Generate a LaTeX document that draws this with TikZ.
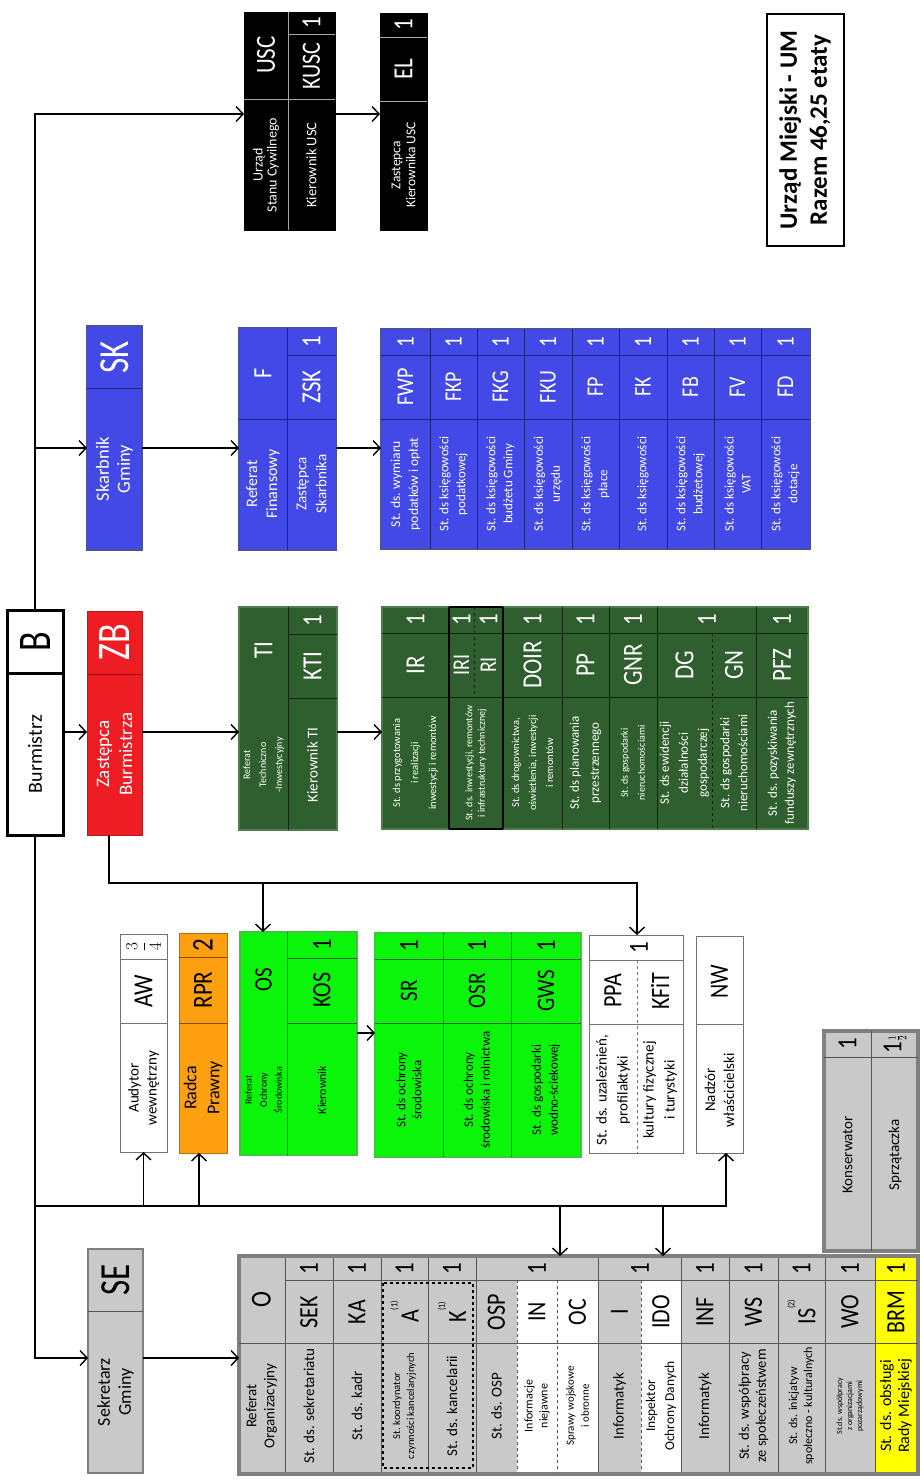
\documentclass[tikz,border=0pt]{standalone}
\usepackage{fontspec}
\setmainfont{Carlito}
\usetikzlibrary{arrows.meta,fit}
\definecolor{cblue}{HTML}{4349E6}
\definecolor{cblueD}{HTML}{1E2580}
\definecolor{cred}{HTML}{EE1D23}
\definecolor{cdg}{HTML}{2F5F2E}
\definecolor{cdgB}{HTML}{4E7D4C}
\definecolor{cdgD}{HTML}{132813}
\definecolor{cbg}{HTML}{0AF50A}
\definecolor{cbgB}{HTML}{3CC83C}
\definecolor{cbgD}{HTML}{1B6B1B}
\definecolor{corange}{HTML}{FFA010}
\definecolor{cgrey}{HTML}{C9C9C9}
\definecolor{cgreyB}{HTML}{7F7F7F}
\definecolor{cgreyD}{HTML}{555555}
\definecolor{cyel}{HTML}{FFFF00}
\newcommand\fs[2]{\fontsize{#1}{#2}\selectfont}
\newcommand\mkbox[6]{\node[inner sep=0pt,outer sep=0pt,fit={(#2,#3) (#4,#5)},#6] (#1) {};}
\newcount\tcount
\newcommand\tx[4]{\global\advance\tcount by 1\relax\node[rot,#4] (t\the\tcount) at (#1,#2) {#3};}
\tikzset{
  rot/.style={rotate=90,align=center,inner sep=0pt},
  cd/.style={yscale=1.2},
  bigcd/.style={yscale=1.3},
  wt/.style={text=white},
  conn/.style={line width=1.4pt,draw=black},
  arr/.style={conn,-{Straight Barb[length=7pt,width=15pt]}},
  bluebox/.style={fill=cblue,draw=cblueD!80,line width=1.5pt},
  dgbox/.style={fill=cdg,draw=cdgB,line width=1.2pt},
  bgbox/.style={fill=cbg,draw=cbgB,line width=1.5pt},
  greybox/.style={fill=cgrey,draw=cgreyB,line width=1.5pt},
  wbox/.style={fill=white,draw=black!55,line width=0.9pt},
  bdiv/.style={draw=cblueD,line width=0.8pt},
  gndiv/.style={draw=cdgD,line width=0.8pt},
  bgdiv/.style={draw=cbgD,line width=0.7pt},
  gdiv/.style={draw=cgreyD,line width=0.8pt},
  kdiv/.style={draw=black!35,line width=1pt},
  wdiv/.style={draw=black!55,line width=0.8pt},
  odiv/.style={draw=corange!50!black,line width=0.7pt},
}
\begin{document}
\begin{tikzpicture}[x=1pt,y=-1pt]
\useasboundingbox (0,0) rectangle (921,1484);
\fill[white] (0,0) rectangle (921,1484);

% ---------- title
\mkbox{title}{767}{14}{844}{246}{draw=black,line width=2.2pt}
\tx{805}{130}{Urząd Miejski - UM\\Razem 46,25 etaty}{font=\fs{25}{30}\bfseries}

% ---------- Burmistrz
\mkbox{bur}{7}{610}{63}{835}{draw=black,line width=3pt,fill=white}
\draw[line width=3pt] (7,673) -- (63,673);
\tx{35}{642}{B}{bigcd,font=\fs{36}{36}}
\tx{35}{754}{Burmistrz}{font=\fs{20}{24}}

% ---------- ZB
\mkbox{zb}{87}{611}{142}{835}{fill=cred,draw=cred!80!black,line width=0.8pt}
\draw[line width=0.8pt,draw=cred!60!black] (87,674) -- (142,674);
\tx{114.5}{642}{ZB}{wt,bigcd,font=\fs{36}{36}}
\tx{114.5}{754}{Zastępca\\Burmistrza}{wt,font=\fs{19}{23}}

% ---------- SK
\mkbox{sk}{87}{326}{142}{550}{bluebox}
\draw[bdiv] (87,388) -- (142,388);
\tx{114.5}{357}{SK}{wt,bigcd,font=\fs{33}{33}}
\tx{114.5}{469}{Skarbnik\\Gminy}{wt,font=\fs{18.5}{21}}

% ---------- SE
\mkbox{se}{88}{1249}{143}{1473}{greybox}
\draw[gdiv] (88,1311) -- (143,1311);
\tx{115.5}{1280}{SE}{bigcd,font=\fs{33}{33}}
\tx{115.5}{1392}{Sekretarz\\Gminy}{font=\fs{18}{21}}

% ---------- USC
\mkbox{usc}{244}{12}{335}{230}{fill=black,draw=black}
\draw[kdiv] (288,12) -- (288,230) (244,99) -- (335,99) (288,34) -- (335,34);
\tx{266}{55}{USC}{wt,cd,font=\fs{23}{23}}
\tx{266}{165}{Urząd\\Stanu Cywilnego}{wt,font=\fs{14}{14}}
\tx{311.5}{23}{1}{wt,cd,font=\fs{23}{23}}
\tx{311.5}{66}{KUSC}{wt,cd,font=\fs{22}{22}}
\tx{311.5}{165}{Kierownik USC}{wt,font=\fs{14.5}{16}}

% ---------- EL
\mkbox{el}{380}{13}{427}{230}{fill=black,draw=black}
\draw[kdiv] (380,37) -- (427,37) (380,101) -- (427,101);
\tx{403.5}{25}{1}{wt,cd,font=\fs{23}{23}}
\tx{403.5}{69}{EL}{wt,cd,font=\fs{23}{23}}
\tx{403.5}{165}{Zastępca\\Kierownika USC}{wt,font=\fs{13.5}{15}}

% ---------- F
\mkbox{fin}{239}{328}{336}{550}{bluebox}
\draw[bdiv] (287,328) -- (287,550) (239,419) -- (336,419) (287,355) -- (336,355);
\tx{263}{373}{F}{wt,cd,font=\fs{22}{22}}
\tx{311.5}{341.5}{1}{wt,cd,font=\fs{23}{23}}
\tx{311.5}{387}{ZSK}{wt,cd,font=\fs{23}{23}}
\tx{263}{484}{Referat\\Finansowy}{wt,font=\fs{16}{20}}
\tx{311.5}{484}{Zastępca\\Skarbnika}{wt,font=\fs{15}{20}}

% ---------- F list
\mkbox{fwp}{381}{329}{810}{549}{bluebox}
\draw[bdiv] (381,355) -- (810,355) (381,419) -- (810,419);
\foreach \x in {430,477,524,572,619,667,714,761} {\draw[bdiv] (\x,329) -- (\x,549);}
\foreach \cx/\cd in {405.5/FWP,453.5/FKP,500.5/FKG,548/FKU,595.5/FP,643/FK,690.5/FB,737.5/FV,785.5/FD}{%
  \tx{\cx}{342}{1}{wt,cd,font=\fs{21}{21}}%
  \tx{\cx}{387}{\cd}{wt,cd,font=\fs{20}{20}}%
}
\tx{405.5}{484}{St. ds. wymiaru\\podatków i opłat}{wt,font=\fs{13.5}{18}}
\tx{453.5}{484}{St. ds księgowości\\podatkowej}{wt,font=\fs{13}{17}}
\tx{500.5}{484}{St. ds księgowości\\budżetu Gminy}{wt,font=\fs{13}{17}}
\tx{548}{484}{St. ds księgowości\\urzędu}{wt,font=\fs{13}{17}}
\tx{595.5}{484}{St. ds księgowości\\płace}{wt,font=\fs{13}{17}}
\tx{643}{484}{St. ds księgowości}{wt,font=\fs{13}{17}}
\tx{690.5}{484}{St. ds księgowości\\budżetowej}{wt,font=\fs{13}{17}}
\tx{737.5}{484}{St. ds księgowości\\VAT}{wt,font=\fs{13}{17}}
\tx{785.5}{484}{St. ds księgowości\\dotacje}{wt,font=\fs{13}{17}}

% ---------- TI
\mkbox{ti}{239}{607}{337}{830}{dgbox}
\draw[gndiv] (288,607) -- (288,830) (288,634) -- (337,634) (288,698) -- (337,698);
\tx{263.5}{650}{TI}{wt,cd,font=\fs{23}{23}}
\tx{263.5}{765}{Referat\\Techniczno\\-Inwestycyjny}{wt,font=\fs{10}{16}}
\tx{312.5}{621}{1}{wt,cd,font=\fs{23}{23}}
\tx{312.5}{666}{KTI}{wt,cd,font=\fs{23}{23}}
\tx{312.5}{765}{Kierownik TI}{wt,font=\fs{15}{17}}

% ---------- TI list
\mkbox{ir}{382}{607}{808}{829}{dgbox}
\draw[gndiv] (382,633) -- (808,633) (382,697) -- (808,697);
\foreach \x in {562,609,657,756} {\draw[gndiv] (\x,607) -- (\x,829);}
\draw[draw=black,line width=1.2pt] (449,607) -- (449,829) (503,607) -- (503,829) (449,829) -- (503,829) (449,607) -- (503,607);
\draw[gndiv,dashed] (474,607) -- (474,697) (712,633) -- (712,829);
\foreach \cx in {415.5,461.5,488.5,532.5,585.5,633,707,782} {\tx{\cx}{620}{1}{wt,cd,font=\fs{23}{23}}}
\foreach \cx/\cd in {415.5/IR,532.5/DOIR,585.5/PP,633/GNR,684.5/DG,734/GN,782/PFZ} {\tx{\cx}{665}{\cd}{wt,cd,font=\fs{23}{23}}}
\tx{461.5}{665}{IRI}{wt,cd,font=\fs{20}{20}}
\tx{488.5}{665}{RI}{wt,cd,font=\fs{20}{20}}
\tx{415.5}{763}{St. ds przygotowania\\i realizacji\\inwestycji i remontów}{wt,font=\fs{10.5}{18}}
\tx{476}{763}{St. ds. inwestycji, remontów\\i infrastruktury technicznej}{wt,font=\fs{10}{12.5}}
\tx{532.5}{763}{St. ds drogownictwa,\\oświetlenia, inwestycji\\i remontów}{wt,font=\fs{10.5}{17}}
\tx{585.5}{763}{St. ds planowania\\przestrzennego}{wt,font=\fs{13}{20}}
\tx{633}{763}{St. ds gospodarki\\nieruchomościami}{wt,font=\fs{10}{17}}
\tx{684.5}{763}{St. ds ewidencji\\działalności\\gospodarczej}{wt,font=\fs{13}{19}}
\tx{734}{763}{St. ds gospodarki\\nieruchomościami}{wt,font=\fs{13}{18}}
\tx{782}{763}{St. ds. pozyskiwania\\funduszy zewnętrznych}{wt,font=\fs{13}{17}}

% ---------- AW
\mkbox{aw}{120}{934}{167}{1152}{wbox}
\draw[wdiv] (120,959) -- (167,959) (120,1023) -- (167,1023);
\tx{143.5}{946.5}{$\displaystyle\frac{3}{4}$}{font=\fs{17}{17}}
\tx{143.5}{991}{AW}{cd,font=\fs{23}{23}}
\tx{143.5}{1088}{Audytor\\wewnętrzny}{font=\fs{15}{18}}

% ---------- RPR
\mkbox{rpr}{179}{933}{227}{1153}{fill=corange,draw=corange!70!black,line width=0.8pt}
\draw[odiv] (179,957) -- (227,957) (179,1023) -- (227,1023);
\tx{203}{945}{2}{cd,font=\fs{25}{25}}
\tx{203}{990}{RPR}{cd,font=\fs{23}{23}}
\tx{203}{1088}{Radca\\Prawny}{font=\fs{18}{23}}

% ---------- OS
\mkbox{os}{240}{932}{357}{1155}{bgbox}
\draw[bgdiv] (287,932) -- (287,1155) (287,958) -- (357,958) (287,1023) -- (357,1023);
\tx{263.5}{980}{OS}{cd,font=\fs{21}{21}}
\tx{263.5}{1090}{Referat\\Ochrony\\Środowiska}{font=\fs{10}{15}}
\tx{322}{945}{1}{cd,font=\fs{23}{23}}
\tx{322}{990}{KOS}{cd,font=\fs{22}{22}}
\tx{322}{1090}{Kierownik}{font=\fs{12}{14}}

% ---------- SR list
\mkbox{sr}{375}{933}{581}{1157}{bgbox}
\draw[bgdiv] (375,959) -- (581,959) (375,1023) -- (581,1023) (443,933) -- (443,1157) (511,933) -- (511,1157);
\foreach \cx/\cd in {409/SR,477/OSR,546/GWS}{%
  \tx{\cx}{946}{1}{cd,font=\fs{23}{23}}%
  \tx{\cx}{991}{\cd}{cd,font=\fs{21}{21}}%
}
\tx{409}{1090}{St. ds ochrony\\środowiska}{font=\fs{13}{16}}
\tx{477}{1090}{St. ds ochrony\\środowiska i rolnictwa}{font=\fs{13}{17}}
\tx{546}{1090}{St. ds gospodarki\\wodno-ściekowej}{font=\fs{13}{17}}

% ---------- PPA
\mkbox{ppa}{589}{935}{683}{1153}{wbox}
\draw[wdiv] (589,960) -- (683,960) (589,1024) -- (683,1024);
\draw[wdiv,dashed] (637,960) -- (637,1153);
\tx{639}{947.5}{1}{cd,font=\fs{23}{23}}
\tx{613}{991}{PPA}{cd,font=\fs{22}{22}}
\tx{660}{991}{KFiT}{cd,font=\fs{22}{22}}
\tx{613}{1090}{St. ds. uzależnień,\\profilaktyki}{font=\fs{15}{21}}
\tx{660}{1090}{kultury fizycznej\\i turystyki}{font=\fs{15}{21}}

% ---------- NW
\mkbox{nw}{696}{936}{743}{1153}{wbox}
\draw[wdiv] (696,1024) -- (743,1024);
\tx{719.5}{982}{NW}{cd,font=\fs{22}{22}}
\tx{719.5}{1090}{Nadzór\\właścicielski}{font=\fs{15}{19}}

% ---------- Konserwator
\mkbox{kon}{824}{1031}{918}{1251}{fill=cgrey,draw=cgreyB,line width=3.5pt}
\draw[gdiv] (871,1031) -- (871,1251) (824,1057) -- (918,1057);
\tx{847.5}{1044}{1}{cd,font=\fs{23}{23}}
\tx{895}{1044}{1{\fs{13}{13}$\frac{1}{2}$}}{cd,font=\fs{23}{23}}
\tx{847.5}{1155}{Konserwator}{font=\fs{15}{15}}
\tx{895}{1155}{Sprzątaczka}{font=\fs{15}{15}}

% ---------- Referat Organizacyjny
\mkbox{org}{239}{1256}{918}{1474}{fill=cgrey,draw=cgreyB,line width=4pt}
\fill[white] (517,1280) rectangle (598,1472);
\fill[white] (641,1280) rectangle (681,1472);
\fill[cyel] (875,1258) rectangle (916,1472);
\draw[gdiv] (285,1280) -- (918,1280) (239,1343) -- (918,1343);
\foreach \x in {285,333,381,428,476,598,681,729,778,825,875} {\draw[gdiv] (\x,1258) -- (\x,1472);}
\draw[gdiv,dashed] (517,1280) -- (517,1472) (557,1280) -- (557,1472) (641,1280) -- (641,1472);
\draw[black,dashed,line width=1.2pt] (383,1283) rectangle (473,1468);
\foreach \cx in {309,357,404.5,452,537,640,705,753.5,801.5,850,896} {\tx{\cx}{1269}{1}{cd,font=\fs{23}{23}}}
\tx{261.5}{1300}{O}{cd,font=\fs{24}{24}}
\foreach \cx/\cd in {309/SEK,357/KA,496.5/OSP,537/IN,577.5/OC,619.5/I,661/IDO,705/INF,753.5/WS,850/WO,896/BRM} {\tx{\cx}{1312}{\cd}{cd,font=\fs{22}{22}}}
\tx{404.5}{1312}{A\raisebox{0.8em}{\fs{8}{8}(1)}}{cd,font=\fs{22}{22}}
\tx{452}{1312}{K\raisebox{0.8em}{\fs{8}{8}(1)}}{cd,font=\fs{22}{22}}
\tx{801.5}{1312}{IS\raisebox{0.8em}{\fs{8}{8}(2)}}{cd,font=\fs{22}{22}}
\tx{261.5}{1406}{Referat\\Organizacyjny}{font=\fs{15}{18}}
\tx{309}{1406}{St. ds. sekretariatu}{font=\fs{15}{18}}
\tx{357}{1406}{St. ds. kadr}{font=\fs{15}{18}}
\tx{404.5}{1406}{St. koordynator\\czynności kancelaryjnych}{font=\fs{10.5}{14}}
\tx{452}{1406}{St. ds. kancelarii}{font=\fs{15}{18}}
\tx{496.5}{1406}{St. ds. OSP}{font=\fs{15}{18}}
\tx{537}{1406}{Informacje\\niejawne}{font=\fs{12}{15}}
\tx{577.5}{1406}{Sprawy wojskowe\\i obronne}{font=\fs{11}{15}}
\tx{619.5}{1406}{Informatyk}{font=\fs{15}{18}}
\tx{661}{1406}{Inspektor\\Ochrony Danych}{font=\fs{13.5}{19}}
\tx{705}{1406}{Informatyk}{font=\fs{15}{18}}
\tx{753.5}{1406}{St. ds. współpracy\\ze społeczeństwem}{font=\fs{14.5}{17}}
\tx{801.5}{1406}{St. ds. inicjatyw\\społeczno - kulturalnych}{font=\fs{12}{15}}
\tx{850}{1406}{St.ds. współpracy\\z organizacjami\\pozarządowymi}{font=\fs{8}{10}}
\tx{896}{1406}{St. ds. obsługi\\Rady Miejskiej}{font=\fs{16}{18}}

% ---------- connectors
\coordinate (hl) at (0,1206);
\coordinate (zbh) at (637,883);
\draw[arr] (bur.north) |- ([yshift=7pt]usc.west);
\draw[arr] (bur.north |- 0,448) -- (sk.west |- 0,448);
\draw[arr] (bur.east |- 0,732) -- (zb.west |- 0,732);
\draw[arr] (zb.east |- 0,732) -- (ti.west |- 0,732);
\draw[arr] (ti.east |- 0,732) -- (ir.west |- 0,732);
\draw[arr] (sk.east |- 0,448) -- (fin.west |- 0,448);
\draw[arr] (fin.east |- 0,448) -- (fwp.west |- 0,448);
\draw[arr] (usc.east |- 0,114) -- (el.west |- 0,114);
\draw[arr] (bur.south) |- (se.west |- 0,1358);
\draw[arr] (se.east |- 0,1358) -- (org.west |- 0,1358);
\draw[arr] (bur.south |- hl) -| (nw.south -| 726,0);
\draw[arr] (hl -| aw.south) -- (aw.south);
\draw[arr] (hl -| 199,0) -- (rpr.south -| 199,0);
\draw[arr] (hl -| 560,0) -- (org.north -| 560,0);
\draw[arr] (hl -| 663,0) -- (org.north -| 663,0);
\draw[arr] (zb.south -| 109,0) |- (zbh) -- (ppa.north -| zbh);
\draw[arr] (zbh -| 263,0) -- (os.north -| 263,0);
\draw[arr] (os.east |- 0,1033) -- (sr.west |- 0,1033);
\end{tikzpicture}
\end{document}
